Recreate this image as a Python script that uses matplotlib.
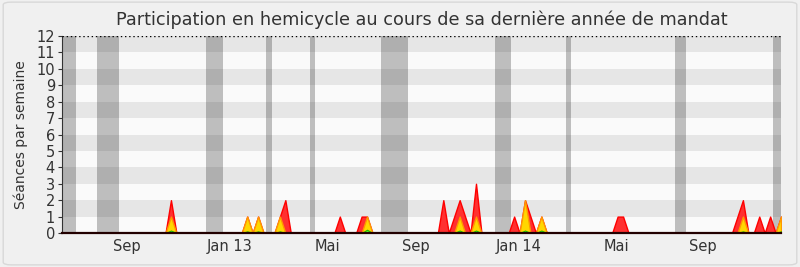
import numpy as np
import matplotlib
matplotlib.use("Agg")
import matplotlib.pyplot as plt
from matplotlib.patches import FancyBboxPatch

# =========================
# Data (weekly, 133 weeks)
# =========================
N_WEEKS = 133

red_weeks = [20, 34, 36, 40, 41, 51, 55, 56, 70, 72, 73, 74, 76, 83, 85, 86, 88,
             102, 103, 124, 125, 128, 130, 132]
red_values = [2, 1, 1, 1, 2, 1, 1, 1, 2, 1, 2, 1, 3, 1, 2, 1, 1,
              1, 1, 1, 2, 1, 1, 1]

yellow_weeks = [20, 34, 36, 40, 56, 73, 76, 85, 88, 125, 132]
yellow_values = [1, 1, 1, 1, 1, 1, 1, 2, 1, 1, 1]

green_weeks = [20, 34, 36, 40, 56, 73, 76, 85, 88, 125, 132]
green_values = [0.15, 0.1, 0.1, 0.1, 0.2, 0.15, 0.15, 0.15, 0.15, 0.1, 0.1]

# parliamentary breaks (week ranges)
break_starts = [-0.5, 6.5, 26.5, 37.5, 45.5, 58.5, 79.5, 92.5, 112.5, 130.5]
break_ends = [2.5, 10.5, 29.5, 38.5, 46.5, 63.5, 82.5, 93.5, 114.5, 132.5]

tick_weeks = [11.9, 30.7, 48.8, 64.9, 83.8, 101.8, 117.7]
tick_labels = ["Sep", "Jan 13", "Mai", "Sep", "Jan 14", "Mai", "Sep"]

weeks = np.arange(N_WEEKS)
red = np.zeros(N_WEEKS)
red[red_weeks] = red_values
yellow = np.zeros(N_WEEKS)
yellow[yellow_weeks] = yellow_values
green = np.zeros(N_WEEKS)
green[green_weeks] = green_values

# =========================
# Plot
# =========================
fig = plt.figure(figsize=(8, 2.67), dpi=100, facecolor="#f0f0f0")
fig.patches.append(FancyBboxPatch((0.004, 0.008), 0.992, 0.984,
                                  boxstyle="round,pad=0,rounding_size=0.01",
                                  transform=fig.transFigure, facecolor="none",
                                  edgecolor="#d8d8d8", linewidth=1))
ax = fig.add_axes([0.0775, 0.1273, 0.8988, 0.7379])

# horizontal stripes
for i in range(12):
    ax.axhspan(i, i + 1, color="#e6e6e6" if i % 2 else "#fafafa", lw=0, zorder=0)

for s, e in zip(break_starts, break_ends):
    ax.axvspan(s, e, color="black", alpha=0.24, lw=0, zorder=1)

ax.fill_between(weeks, 0, red, facecolor="#ff3030", edgecolor="#ff0000", lw=1, zorder=2)
ax.fill_between(weeks, 0, yellow, facecolor="#ffd700", edgecolor="#ff9900", lw=1, zorder=3)
ax.fill_between(weeks, 0, green, facecolor="#66ff33", edgecolor="#22bb00", lw=0.8, zorder=4)

ax.axhline(12, color="black", ls=(0, (1, 2)), lw=1, zorder=5)
ax.axhline(0, color="#220000", lw=1.6, zorder=6, clip_on=False)

ax.set_xlim(0, N_WEEKS - 1)
ax.set_ylim(0, 12)
ax.set_yticks(range(13))
ax.set_xticks(tick_weeks)
ax.set_xticklabels(tick_labels)
ax.tick_params(axis="x", length=0, labelsize=10.5, colors="#333333", pad=4)
ax.tick_params(axis="y", length=3, labelsize=10.5, colors="#333333", pad=2)

for side in ["top", "right", "bottom"]:
    ax.spines[side].set_visible(False)
ax.spines["left"].set_color("#333333")

ax.set_ylabel("Séances par semaine", fontsize=10, color="#333333", labelpad=6)
ax.set_title("Participation en hemicycle au cours de sa dernière année de mandat",
             fontsize=12.7, color="#333333", pad=8)

fig.savefig("out.png", dpi=100, facecolor=fig.get_facecolor())
